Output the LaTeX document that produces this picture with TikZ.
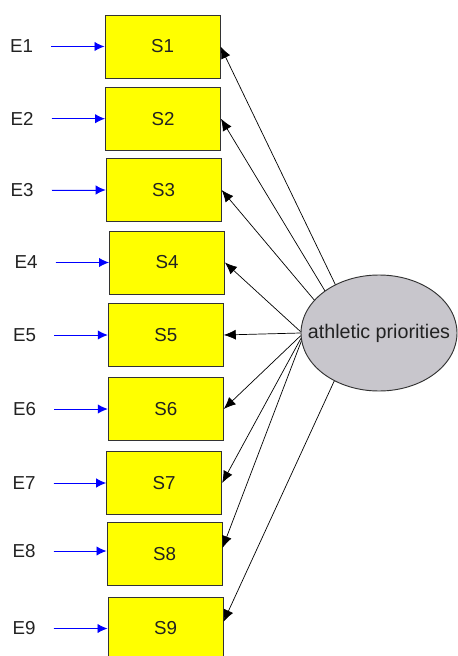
\documentclass[tikz,border=0pt]{standalone}
\usepackage{fontspec}
\setmainfont{Liberation Sans}
\usetikzlibrary{arrows.meta, shapes.geometric}
\definecolor{itemyellow}{RGB}{255,255,0}
\definecolor{itemline}{RGB}{51,51,51}
\definecolor{factorgray}{RGB}{200,198,204}
\definecolor{labeltext}{RGB}{34,34,34}

\begin{document}
\begin{tikzpicture}[x=0.03cm, y=-0.03cm,
  item/.style={rectangle, minimum width=3.45cm, minimum height=1.89cm,
               inner sep=0pt, draw=itemline, fill=itemyellow, line width=0.8pt,
               text=labeltext, font=\fontsize{16}{19}\selectfont},
  errlbl/.style={inner sep=0pt, text=labeltext, font=\fontsize{16}{19}\selectfont},
  factor/.style={ellipse, minimum width=4.68cm, minimum height=3.48cm,
                 inner sep=0pt, draw=itemline, fill=factorgray, line width=0.8pt,
                 text=labeltext, font=\fontsize{16.8}{19}\selectfont},
  earr/.style={-{Latex[length=0.3cm, width=0.28cm]}, draw=blue, fill=blue,
               line width=0.8pt, shorten <=0.54cm},
  larr/.style={-{Latex[length=0.36cm, width=0.3cm]}, draw=black, line width=0.6pt},
]
\useasboundingbox (0,0) rectangle (458,656);
\clip (0,0) rectangle (458,656);

%% ── Indicators ─────────────────────────────────────────────────────
\node[item] (s1) at (162.5, 46.5)  {S1};
\node[item] (s2) at (163.0, 118.7) {S2};
\node[item] (s3) at (163.7, 190.0) {S3};
\node[item] (s4) at (167.0, 262.5) {S4};
\node[item] (s5) at (165.8, 335.0) {S5};
\node[item] (s6) at (165.8, 409.0) {S6};
\node[item] (s7) at (164.2, 483.0) {S7};
\node[item] (s8) at (164.5, 554.0) {S8};
\node[item] (s9) at (165.5, 628.5) {S9};

%% ── Error terms ────────────────────────────────────────────────────
\node[errlbl] (e1) at (21.5, 46.5)  {E1};
\node[errlbl] (e2) at (22.0, 118.7) {E2};
\node[errlbl] (e3) at (22.0, 190.0) {E3};
\node[errlbl] (e4) at (26.0, 262.5) {E4};
\node[errlbl] (e5) at (24.5, 335.0) {E5};
\node[errlbl] (e6) at (24.5, 409.0) {E6};
\node[errlbl] (e7) at (24.0, 483.0) {E7};
\node[errlbl] (e8) at (24.0, 551.0) {E8};
\node[errlbl] (e9) at (24.0, 628.5) {E9};

%% ── Latent factor ──────────────────────────────────────────────────
\node[factor] (ap) at (379, 333) {\makebox[0pt]{athletic priorities}};

%% ── Error arrows ───────────────────────────────────────────────────
\draw[earr] (e1) -- (s1);
\draw[earr] (e2) -- (s2);
\draw[earr] (e3) -- (s3);
\draw[earr] (e4) -- (s4);
\draw[earr] (e5) -- (s5);
\draw[earr] (e6) -- (s6);
\draw[earr] (e7) -- (s7);
\draw[earr] (e8.east) -- (s8.west |- e8.east);
\draw[earr] (e9) -- (s9);

%% ── Loadings ───────────────────────────────────────────────────────
\draw[larr] (ap.132) -- (s1.east);
\draw[larr] (ap.142) -- (s2.east);
\draw[larr] (ap.153) -- (s3.east);
\draw[larr] (ap.179) -- (s4.east);
\draw[larr] (ap.180) -- (s5.east);
\draw[larr] (ap.182) -- (s6.east);
\draw[larr] (ap.184) -- (s7.east);
\draw[larr] (ap.186) -- ([yshift=0.18cm]s8.east);
\draw[larr] (ap.227) -- ([yshift=0.2cm]s9.east);

\end{tikzpicture}
\end{document}
